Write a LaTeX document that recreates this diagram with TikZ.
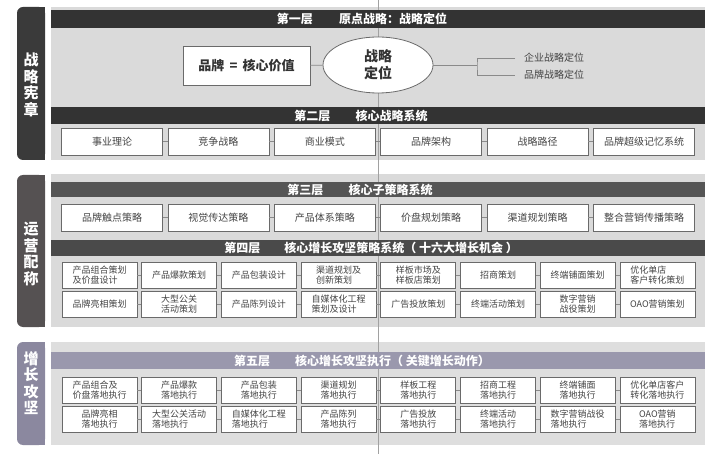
\documentclass[tikz,border=0pt]{standalone}
\usepackage{fontspec}
\setmainfont{Noto Sans CJK SC}
\usetikzlibrary{shapes.geometric}

\definecolor{tabdark}{HTML}{3A3A3A}
\definecolor{tabmid}{HTML}{555152}
\definecolor{tablav}{HTML}{8B889F}
\definecolor{bardark}{HTML}{333333}
\definecolor{barmid}{HTML}{555555}
\definecolor{barfour}{HTML}{4A4A4A}
\definecolor{barlav}{HTML}{9A98AD}
\definecolor{panelgray}{HTML}{DADADA}
\definecolor{boxline}{HTML}{6A6A6A}
\definecolor{boxtext}{HTML}{444444}
\definecolor{linkgray}{HTML}{8A8A8A}

\begin{document}
\begin{tikzpicture}[x=1pt,y=-1pt,
    box/.style={draw=boxline,fill=white,line width=0.7pt,minimum width=101pt,minimum height=27pt,inner sep=0pt,text=boxtext,font=\fontsize{10}{12}\selectfont},
    sbox/.style={box,minimum width=75pt,minimum height=26pt,align=center,font=\fontsize{9}{10.5}\selectfont},
    lbox/.style={sbox,align=left},
    bar/.style={minimum width=654pt,inner sep=0pt},
    title/.style={text=white,inner sep=0pt,font=\bfseries\fontsize{12}{14}\selectfont},
    tabtext/.style={text=white,inner sep=0pt,align=center,font=\bfseries\fontsize{15}{16.5}\selectfont},
    link/.style={draw=linkgray,line width=0.6pt}]
    \useasboundingbox (0,0) rectangle (720,454);

    % panels and side tabs
    \fill[panelgray] (51,7) rectangle (705,160);
    \fill[panelgray] (51,174) rectangle (705,327);
    \fill[panelgray!90!white] (51,342) rectangle (705,445);
    \fill[tabdark,rounded corners=6pt] (17,7) rectangle (45,160);
    \fill[tabdark] (31,7) rectangle (45,160);
    \fill[tabmid,rounded corners=6pt] (17,175) rectangle (45,327);
    \fill[tabmid] (31,175) rectangle (45,327);
    \fill[tablav,rounded corners=6pt] (17,342) rectangle (45,445);
    \fill[tablav] (31,342) rectangle (45,445);
    \node[tabtext] (tabcharter) at (31,85) {战\\略\\宪\\章};
    \node[tabtext] (tabops) at (31,254) {运\\营\\配\\称};
    \node[tabtext] (tabgrowth) at (31,383) {增\\长\\攻\\坚};

    \draw[linkgray!80,line width=0.5pt] (378,0) -- (378,454);

    % layer 1
    \node[bar,fill=bardark,minimum height=18pt] (bar1) at (378,19) {};
    \node[title] (title1) at (362,19) {第一层\hspace{2.2em}原点战略：战略定位};
    \node[draw=boxline,fill=white,line width=0.7pt,minimum width=127pt,minimum height=39pt,text=bardark,font=\bfseries\fontsize{13}{15}\selectfont] (brand) at (246.5,65.5) {品牌\hspace{0.4em}=\hspace{0.4em}核心价值};
    \node[ellipse,draw=boxline,fill=white,line width=0.8pt,minimum width=110pt,minimum height=56pt,inner sep=0pt,align=center,text=bardark,font=\bfseries\fontsize{14}{17}\selectfont] (position) at (378,65) {战略\\定位};
    \node[anchor=west,inner sep=0pt,text=boxtext,font=\fontsize{10}{12}\selectfont] (corppos) at (524,58) {企业战略定位};
    \node[anchor=west,inner sep=0pt,text=boxtext,font=\fontsize{10}{12}\selectfont] (brandpos) at (524,75) {品牌战略定位};
    \coordinate (fork) at (477,65);
    \coordinate (forkup) at (515,58);
    \coordinate (forkdown) at (515,75);
    \draw[link] (brand) -- (position);
    \draw[link] (position) -- (fork);
    \draw[link] (forkup) -| (fork) |- (forkdown);

    % layer 2
    \node[bar,fill=bardark,minimum height=17pt] (bar2) at (378,115.5) {};
    \node[title] (title2) at (361,115.5) {第二层\hspace{2.1em}核心战略系统};
    \node[box] (core1) at (112,141.5) {事业理论};
    \node[box] (core2) at (218.4,141.5) {竞争战略};
    \node[box] (core3) at (324.8,141.5) {商业模式};
    \node[box] (core4) at (431.2,141.5) {品牌架构};
    \node[box] (core5) at (537.6,141.5) {战略路径};
    \node[box] (core6) at (644,141.5) {品牌超级记忆系统};

    % layer 3
    \node[bar,fill=barmid,minimum height=15pt] (bar3) at (378,189.5) {};
    \node[title] (title3) at (360,189.5) {第三层\hspace{2.1em}核心子策略系统};
    \node[box] (sub1) at (112,217.5) {品牌触点策略};
    \node[box] (sub2) at (218.4,217.5) {视觉传达策略};
    \node[box] (sub3) at (324.8,217.5) {产品体系策略};
    \node[box] (sub4) at (431.2,217.5) {价盘规划策略};
    \node[box] (sub5) at (537.6,217.5) {渠道规划策略};
    \node[box] (sub6) at (644,217.5) {整合营销传播策略};

    % layer 4
    \node[bar,fill=barfour,minimum height=16pt] (bar4) at (378,248) {};
    \node[title] (title4) at (371,248) {第四层\hspace{2em}核心增长攻坚策略系统（ 十六大增长机会 ）};
    \node[lbox] (plan1) at (99.5,275) {产品组合策划\\及价盘设计};
    \node[sbox] (plan2) at (179.2,275) {产品爆款策划};
    \node[sbox] (plan3) at (258.9,275) {产品包装设计};
    \node[lbox] (plan4) at (338.6,275) {渠道规划及\\创新策划};
    \node[sbox] (plan5) at (418.3,275) {样板市场及\\样板店策划};
    \node[sbox] (plan6) at (498,275) {招商策划};
    \node[sbox] (plan7) at (577.7,275) {终端铺面策划};
    \node[lbox] (plan8) at (657.4,275) {优化单店\\客户转化策划};
    \node[sbox] (plan9) at (99.5,304) {品牌亮相策划};
    \node[sbox] (plan10) at (179.2,304) {大型公关\\活动策划};
    \node[sbox] (plan11) at (258.9,304) {产品陈列设计};
    \node[lbox] (plan12) at (338.6,304) {自媒体化工程\\策划及设计};
    \node[sbox] (plan13) at (418.3,304) {广告投放策划};
    \node[sbox] (plan14) at (498,304) {终端活动策划};
    \node[sbox] (plan15) at (577.7,304) {数字营销\\战役策划};
    \node[sbox] (plan16) at (657.4,304) {OAO营销策划};

    % layer 5
    \node[bar,fill=barlav,minimum height=17pt] (bar5) at (378,360.5) {};
    \node[title] (title5) at (362,360.5) {第五层\hspace{2.1em}核心增长攻坚执行（ 关键增长动作）};
    \node[lbox] (act1) at (99.5,390) {产品组合及\\价盘落地执行};
    \node[sbox] (act2) at (179.2,390) {产品爆款\\落地执行};
    \node[sbox] (act3) at (258.9,390) {产品包装\\落地执行};
    \node[sbox] (act4) at (338.6,390) {渠道规划\\落地执行};
    \node[sbox] (act5) at (418.3,390) {样板工程\\落地执行};
    \node[sbox] (act6) at (498,390) {招商工程\\落地执行};
    \node[sbox] (act7) at (577.7,390) {终端铺面\\落地执行};
    \node[lbox] (act8) at (657.4,390) {优化单店客户\\转化落地执行};
    \node[lbox] (act9) at (99.5,419) {品牌亮相\\落地执行};
    \node[lbox] (act10) at (179.2,419) {大型公关活动\\落地执行};
    \node[lbox] (act11) at (258.9,419) {自媒体化工程\\落地执行};
    \node[sbox] (act12) at (338.6,419) {产品陈列\\落地执行};
    \node[sbox] (act13) at (418.3,419) {广告投放\\落地执行};
    \node[sbox] (act14) at (498,419) {终端活动\\落地执行};
    \node[lbox] (act15) at (577.7,419) {数字营销战役\\落地执行};
    \node[lbox] (act16) at (657.4,419) {OAO营销\\落地执行};

    % short links between neighbouring boxes
    \foreach \a/\b in {1/2,2/3,3/4,4/5,5/6} {
        \draw[link] (core\a) -- (core\b);
        \draw[link] (sub\a) -- (sub\b);
    }
    \foreach \a/\b in {1/2,2/3,3/4,4/5,5/6,6/7,7/8,9/10,10/11,11/12,12/13,13/14,14/15,15/16} {
        \draw[link] (plan\a) -- (plan\b);
        \draw[link] (act\a) -- (act\b);
    }
\end{tikzpicture}
\end{document}
